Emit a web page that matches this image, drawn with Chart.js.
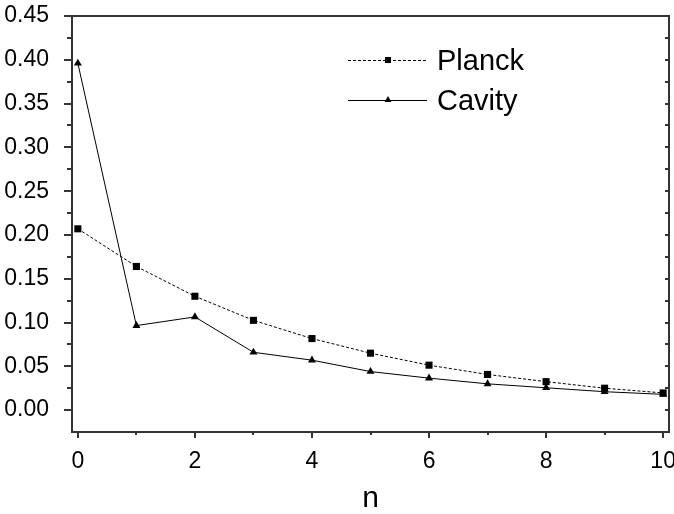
<!DOCTYPE html>
<html>
<head>
<meta charset="utf-8">
<script src="https://cdn.jsdelivr.net/npm/chart.js@4/dist/chart.umd.min.js"></script>
<style>
html,body{margin:0;padding:0;background:#fff;}
#wrap{width:674px;height:514px;}
</style>
</head>
<body>
<div id="wrap"><canvas id="c" width="674" height="514"></canvas></div>
<script>
const nValues = [0,1,2,3,4,5,6,7,8,9,10];
const planck = [0.207,0.164,0.130,0.1025,0.0817,0.065,0.0513,0.0407,0.0325,0.0250,0.0196];
const cavity = [0.396,0.0965,0.1064,0.066,0.057,0.044,0.0365,0.030,0.0255,0.021,0.018];
const xTicks = [0,2,4,6,8,10];
const yTicks = [0,0.05,0.10,0.15,0.20,0.25,0.30,0.35,0.40,0.45];
const seriesNames = ['Planck','Cavity'];
const axisTitle = 'n';

const FONT = "'Liberation Sans', Arial, Helvetica, sans-serif";
const AX = '#333';

const framePlugin = {
  id: 'frame',
  afterDatasetsDraw(chart) {
    const {ctx, chartArea: a, scales: {x, y}} = chart;
    ctx.save();
    ctx.strokeStyle = AX;
    ctx.lineWidth = 2;
    ctx.strokeRect(a.left, a.top, a.right - a.left, a.bottom - a.top);
    ctx.beginPath();
    const yMinor = [];
    for (let i = 0; i < yTicks.length - 1; i++) yMinor.push((yTicks[i] + yTicks[i+1]) / 2);
    yMinor.push(yTicks[0] - (yTicks[1] - yTicks[0]) / 2);
    yTicks.forEach(v => {
      const py = Math.round(y.getPixelForValue(v));
      ctx.moveTo(a.left - 8, py); ctx.lineTo(a.left, py);
      ctx.moveTo(a.right, py); ctx.lineTo(a.right - 4, py);
    });
    yMinor.forEach(v => {
      const py = Math.round(y.getPixelForValue(v));
      if (py > a.bottom - 1) return;
      ctx.moveTo(a.left - 5, py); ctx.lineTo(a.left, py);
      ctx.moveTo(a.right, py); ctx.lineTo(a.right - 4, py);
    });
    xTicks.forEach(v => {
      const px = Math.round(x.getPixelForValue(v));
      ctx.moveTo(px, a.bottom); ctx.lineTo(px, a.bottom + 6);
    });
    for (let i = 0; i < xTicks.length - 1; i++) {
      const px = Math.round(x.getPixelForValue((xTicks[i] + xTicks[i+1]) / 2));
      ctx.moveTo(px, a.bottom); ctx.lineTo(px, a.bottom + 3);
    }
    ctx.stroke();
    ctx.restore();
  }
};

const legendPlugin = {
  id: 'customLegend',
  afterDraw(chart) {
    const ctx = chart.ctx;
    const rows = [60, 100];
    ctx.save();
    chart.data.datasets.forEach((ds, i) => {
      const yy = rows[i];
      ctx.strokeStyle = '#000';
      ctx.lineWidth = 1;
      ctx.setLineDash(ds.borderDash || []);
      ctx.beginPath();
      ctx.moveTo(348, yy + 0.5); ctx.lineTo(427, yy + 0.5);
      ctx.stroke();
      ctx.setLineDash([]);
      Chart.helpers.drawPoint(ctx, {pointStyle: ds.pointStyle, radius: ds.pointRadius - 0.7, borderWidth: 0}, 388, yy);
      ctx.fillStyle = '#000';
      ctx.font = '29px ' + FONT;
      ctx.textBaseline = 'alphabetic';
      ctx.textAlign = 'left';
      ctx.fillText(ds.label, 437, yy + 10);
    });
    ctx.restore();
  }
};

new Chart(document.getElementById('c'), {
  type: 'line',
  data: {
    datasets: [
      {
        label: seriesNames[0],
        data: nValues.map((n, i) => ({x: n, y: planck[i]})),
        borderColor: '#000', backgroundColor: '#000',
        borderWidth: 1, borderDash: [3, 2],
        pointStyle: 'rect', pointRadius: 5, pointBorderWidth: 0,
        pointBackgroundColor: '#000', tension: 0
      },
      {
        label: seriesNames[1],
        data: nValues.map((n, i) => ({x: n, y: cavity[i]})),
        borderColor: '#000', backgroundColor: '#000',
        borderWidth: 1,
        pointStyle: 'triangle', pointRadius: 4.6, pointBorderWidth: 0,
        pointBackgroundColor: '#000', tension: 0
      }
    ]
  },
  options: {
    responsive: false,
    animation: false,
    devicePixelRatio: 1,
    layout: {padding: {left: 0, top: 16, right: 4, bottom: 0}},
    plugins: {legend: {display: false}, tooltip: {enabled: false}},
    scales: {
      x: {
        type: 'linear', min: -0.1, max: 10.1,
        grid: {display: false}, border: {display: false},
        afterBuildTicks(s) { s.ticks = xTicks.map(v => ({value: v})); },
        afterFit(s) { s.height = 82; s.paddingLeft = 0; s.paddingRight = 0; },
        ticks: {
          color: '#000', padding: 8, maxRotation: 0, autoSkip: false,
          font: {family: FONT, size: 23},
          callback: v => String(v)
        },
        title: {
          display: true, text: axisTitle, color: '#000',
          font: {family: FONT, size: 30, lineHeight: 1},
          padding: {top: 0, bottom: 0}
        }
      },
      y: {
        type: 'linear', min: -0.025, max: 0.45,
        grid: {display: false}, border: {display: false},
        afterBuildTicks(s) { s.ticks = yTicks.map(v => ({value: v})); },
        afterFit(s) { s.width = 72; s.paddingTop = 0; s.paddingBottom = 0; },
        ticks: {
          color: '#000', padding: 15, autoSkip: false,
          font: {family: FONT, size: 23},
          callback: v => Number(v).toFixed(2)
        }
      }
    }
  },
  plugins: [framePlugin, legendPlugin]
});
</script>
</body>
</html>
